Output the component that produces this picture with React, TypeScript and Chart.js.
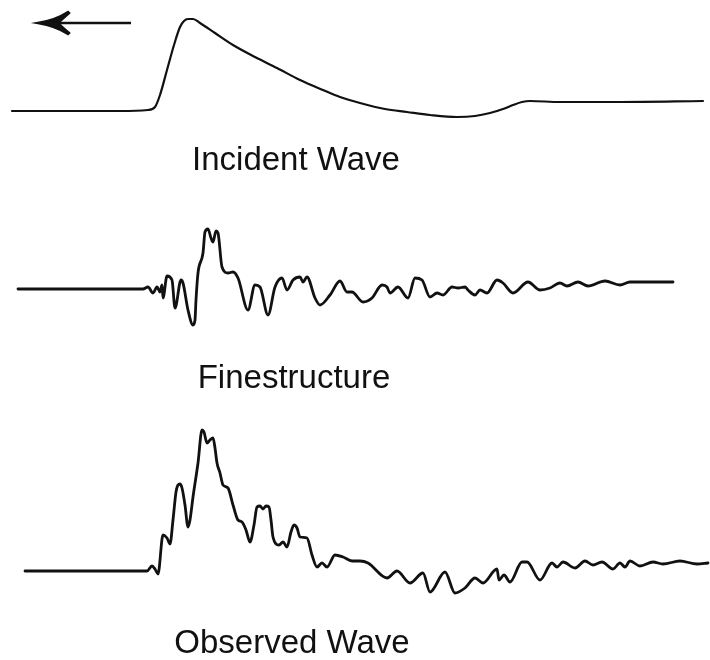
import React, { useEffect, useRef } from "react";
import { Chart, registerables } from "chart.js";

Chart.register(...registerables);

// Time axis (arbitrary units) and amplitude (positive = upward) for each trace
const INCIDENT_T = [12, 60, 120, 148, 155, 160, 167, 174, 180, 184, 188, 193, 200, 215, 233, 255, 277, 300, 323, 340, 360, 385, 407, 430, 457, 475, 490, 503, 513, 522, 530, 560, 620, 703];
const INCIDENT_A = [0, 0, 0, 1, 4, 16, 41, 66, 84, 90, 92, 92, 88, 78, 66, 54, 43, 31, 21, 14, 8, 2, -1, -4, -6, -5, -2, 2, 6, 9, 10, 9, 9, 10];

const FINE_T = [18, 140, 143, 148, 153, 157, 160, 162, 163, 167, 172, 175, 181, 183, 188, 193, 195, 196, 198, 203, 205, 208, 211, 213, 216, 218, 222, 228, 233, 238, 248, 255, 260, 268, 275, 282, 287, 293, 300, 303, 307, 315, 320, 330, 340, 347, 352, 363, 372, 382, 387, 390, 398, 408, 415, 422, 430, 437, 443, 452, 458, 465, 468, 475, 480, 487, 497, 503, 513, 528, 540, 550, 560, 567, 578, 588, 605, 620, 630, 673];
const FINE_A = [0, 0, 0, 2, -4, 2, -3, 4, -9, 13, 9, -19, 9, 6, -21, -36, -31, -11, 16, 36, 57, 60, 51, 47, 58, 56, 22, 16, 17, 11, -21, 4, 2, -26, 2, 11, -1, 9, 12, 7, 12, -9, -16, -6, 8, -3, -3, -13, -9, 4, 2, -4, 2, -9, 11, 9, -8, -4, -6, 2, 1, 2, -1, -6, -1, -4, 9, 6, -4, 7, -1, 1, 6, 3, 7, 3, 8, 4, 7, 7];

const OBS_T = [25, 140, 147, 152, 155, 158, 163, 167, 170, 173, 176, 178, 180, 182, 185, 188, 190, 193, 198, 202, 204, 207, 210, 213, 215, 217, 220, 223, 228, 233, 238, 242, 246, 250, 254, 257, 260, 263, 266, 269, 271, 273, 279, 283, 287, 291, 294, 297, 300, 307, 312, 317, 322, 327, 335, 343, 352, 360, 368, 387, 397, 410, 423, 430, 445, 455, 465, 475, 483, 497, 499, 504, 510, 522, 527, 540, 552, 557, 563, 575, 585, 593, 602, 613, 620, 625, 630, 640, 653, 663, 680, 697, 708];
const OBS_A = [0, 0, 0, 5, 2, -3, 36, 33, 27, 51, 79, 86, 87, 83, 66, 44, 51, 74, 108, 141, 139, 128, 131, 133, 123, 108, 98, 86, 83, 66, 51, 49, 41, 29, 46, 64, 65, 62, 65, 64, 51, 34, 26, 29, 24, 39, 46, 43, 34, 33, 16, 4, 8, 4, 16, 14, 10, 10, 8, -7, 0, -12, -2, -21, -1, -22, -17, -7, -12, 2, -9, -4, -11, 9, 9, -9, 8, 4, 9, 3, 10, 6, 9, 2, 8, 4, 10, 5, 9, 7, 10, 7, 8];

const LABELS = ["Incident Wave", "Finestructure", "Observed Wave"];

export default function App() {
  const ref = useRef<HTMLCanvasElement | null>(null);

  useEffect(() => {
    if (!ref.current) return;
    const offsets = [549, 371, 89];
    const series = [
      { t: INCIDENT_T, a: INCIDENT_A, w: 2.2 },
      { t: FINE_T, a: FINE_A, w: 2.8 },
      { t: OBS_T, a: OBS_A, w: 2.8 },
    ];
    const labelPos = [
      { x: 296, y: 490 },
      { x: 294, y: 272 },
      { x: 292, y: 7 },
    ];

    const annot = {
      id: "annot",
      afterDraw(chart: any) {
        const ctx = chart.ctx;
        const xs = chart.scales.x;
        const ys = chart.scales.y;
        ctx.save();
        ctx.fillStyle = "#111";
        ctx.font = '33px "Liberation Sans", Arial, sans-serif';
        ctx.textAlign = "center";
        ctx.textBaseline = "alphabetic";
        LABELS.forEach((s, i) => {
          ctx.fillText(s, xs.getPixelForValue(labelPos[i].x), ys.getPixelForValue(labelPos[i].y));
        });
        // direction arrow
        const ay = ys.getPixelForValue(637);
        const x0 = xs.getPixelForValue(38);
        const x1 = xs.getPixelForValue(131);
        ctx.strokeStyle = "#111";
        ctx.lineWidth = 2.4;
        ctx.beginPath();
        ctx.moveTo(x0 + 14, ay);
        ctx.lineTo(x1, ay);
        ctx.stroke();
        ctx.beginPath();
        ctx.moveTo(x0, ay);
        ctx.quadraticCurveTo(x0 + 18, ay - 3, x0 + 30, ay - 11);
        ctx.lineTo(x0 + 31, ay - 10);
        ctx.quadraticCurveTo(x0 + 22, ay - 2, x0 + 20, ay);
        ctx.quadraticCurveTo(x0 + 22, ay + 2, x0 + 31, ay + 10);
        ctx.lineTo(x0 + 30, ay + 11);
        ctx.quadraticCurveTo(x0 + 18, ay + 3, x0, ay);
        ctx.closePath();
        ctx.fill();
        ctx.stroke();
        ctx.restore();
      },
    };

    const chart = new Chart(ref.current, {
      type: "line",
      data: {
        datasets: series.map((s, k) => ({
          data: s.t.map((t, i) => ({ x: t, y: s.a[i] + offsets[k] })),
          borderColor: "#111",
          borderWidth: s.w,
          pointRadius: 0,
          cubicInterpolationMode: "monotone",
          fill: false,
          borderCapStyle: "round",
          borderJoinStyle: "round",
        })),
      },
      options: {
        responsive: false,
        animation: false,
        layout: { padding: 0 },
        plugins: { legend: { display: false }, tooltip: { enabled: false }, title: { display: false } },
        scales: {
          x: { type: "linear", min: 0, max: 710, display: false },
          y: { type: "linear", min: 0, max: 660, display: false },
        },
      },
      plugins: [annot],
    } as any);
    return () => chart.destroy();
  }, []);

  return (
    <div style={{ position: "absolute", left: 0, top: 0, width: 710, height: 660, background: "#fff" }}>
      <canvas ref={ref} width={710} height={660} style={{ display: "block" }} />
    </div>
  );
}
